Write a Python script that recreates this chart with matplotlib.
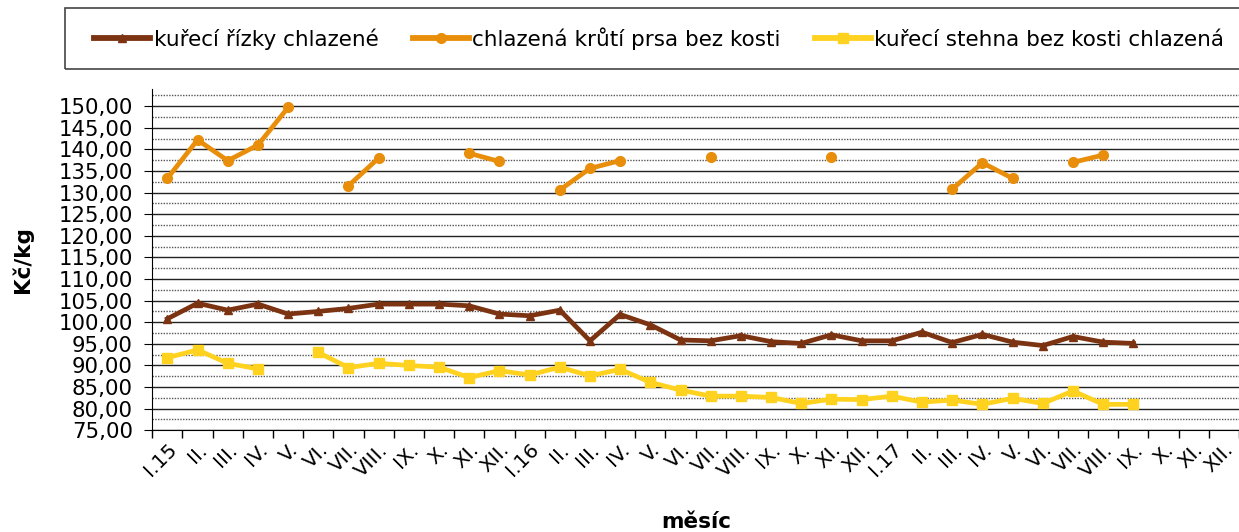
import matplotlib
matplotlib.use("Agg")
import matplotlib.pyplot as plt
import numpy as np
from matplotlib.patches import Rectangle
from matplotlib.ticker import MultipleLocator, FuncFormatter

nan = np.nan

months = ["I.15", "II.", "III.", "IV.", "V.", "VI.", "VII.", "VIII.", "IX.", "X.", "XI.", "XII.",
          "I.16", "II.", "III.", "IV.", "V.", "VI.", "VII.", "VIII.", "IX.", "X.", "XI.", "XII.",
          "I.17", "II.", "III.", "IV.", "V.", "VI.", "VII.", "VIII.", "IX.", "X.", "XI.", "XII."]

rizky = [100.8, 104.4, 102.8, 104.2, 101.9, 102.5, 103.2, 104.2, 104.2, 104.2, 103.8, 101.9,
         101.5, 102.8, 95.7, 101.8, 99.4, 95.9, 95.7, 96.9, 95.5, 95.1, 97.1, 95.7,
         95.7, 97.7, 95.3, 97.2, 95.4, 94.6, 96.7, 95.4, 95.1, nan, nan, nan]

kruti_prsa = [133.3, 142.2, 137.4, 141.0, 149.7, nan, 131.6, 138.0, nan, nan, 139.1, 137.2,
              nan, 130.6, 135.6, 137.4, nan, nan, 138.2, nan, nan, nan, 138.2, nan,
              nan, nan, 130.8, 136.9, 133.3, nan, 137.0, 138.7, nan, nan, nan, nan]

stehna = [91.8, 93.6, 90.5, 89.2, nan, 93.0, 89.5, 90.5, 90.0, 89.6, 87.2, 88.8,
          87.8, 89.6, 87.6, 89.1, 86.1, 84.3, 82.9, 82.9, 82.6, 81.2, 82.2, 82.1,
          82.9, 81.5, 82.0, 81.0, 82.4, 81.2, 84.1, 81.0, 81.0, nan, nan, nan]

series = [
    ("kuřecí řízky chlazené", rizky, "#7B3312", "^", 6),
    ("chlazená krůtí prsa bez kosti", kruti_prsa, "#E98E0A", "o", 7),
    ("kuřecí stehna bez kosti chlazená", stehna, "#FFD21F", "s", 7),
]

plt.rcParams["font.family"] = ["DejaVu Sans"]

fig = plt.figure(figsize=(12.39, 5.32), dpi=100)
ax = fig.add_axes([0.1229, 0.1912, 1 - 0.1229, 0.8321 - 0.1912])

x = np.arange(len(months))
handles = []
for name, vals, color, marker, ms in series:
    h, = ax.plot(x, vals, color=color, lw=3.4, marker=marker, ms=ms, label=name,
                 solid_joinstyle="round", zorder=3)
    handles.append(h)

ax.set_ylim(75, 153.9)
ax.set_xlim(-0.5, 35.3)
ax.yaxis.set_major_locator(MultipleLocator(5))
ax.yaxis.set_minor_locator(MultipleLocator(2.5))
ax.yaxis.set_major_formatter(FuncFormatter(lambda v, p: f"{v:.2f}".replace(".", ",")))
ax.grid(which="major", axis="y", color="#222222", lw=1.0, ls="-")
ax.grid(which="minor", axis="y", color="#555555", lw=1.0, ls=(0, (1, 1)))
ax.set_axisbelow(True)

ax.set_xticks(np.arange(len(months) + 1) - 0.5)
ax.set_xticklabels([])
ax.set_xticks(x, minor=True)
ax.set_xticklabels(months, minor=True, rotation=45, ha="right", va="top",
                   rotation_mode="anchor", fontsize=14.5)
ax.tick_params(axis="x", which="minor", length=0, pad=7)
ax.tick_params(axis="x", which="major", length=6, width=1, color="black")
ax.tick_params(axis="y", which="major", length=6, labelsize=15.3, pad=8)
ax.tick_params(axis="y", which="minor", length=0)

for side in ["top", "right"]:
    ax.spines[side].set_visible(False)
ax.spines["left"].set_color("black")
ax.spines["bottom"].set_color("black")

fig.text(22 / 1239, 1 - 260 / 532, "Kč/kg", fontsize=15.5, fontweight="bold",
         rotation=90, ha="center", va="center")
fig.text(0.562, 0.018, "měsíc", fontsize=15.5, fontweight="bold", ha="center", va="center")

# legend box, cut off at the right like the source
fig.patches.append(Rectangle((65 / 1239, 1 - 69 / 532), 1.0, 61 / 532, transform=fig.transFigure,
                             fill=False, edgecolor="#444444", lw=1.2))
leg = fig.legend(handles=handles, loc="center", bbox_to_anchor=(0.532, 1 - 38.5 / 532), ncol=3,
                 frameon=False, fontsize=15.5, handlelength=2.6, handletextpad=0.15,
                 columnspacing=1.6)
for line in leg.get_lines():
    line.set_linewidth(4.2)

fig.savefig("out.png", dpi=100)
